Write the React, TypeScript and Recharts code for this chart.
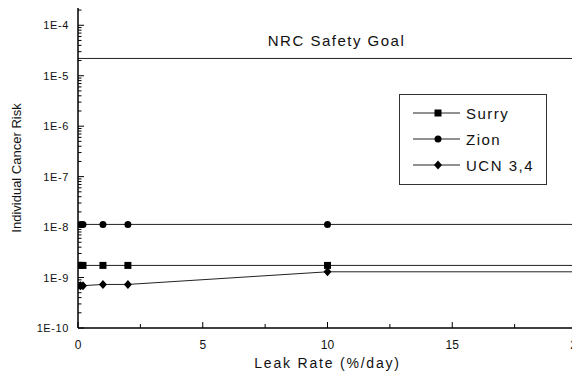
import React from 'react';
import {
  LineChart,
  Line,
  XAxis,
  YAxis,
  ReferenceLine,
  Legend,
} from 'recharts';

// leak rate (%/day) and individual cancer risk per plant
const leakRate = [0.1, 0.2, 1, 2, 10, 20];
const surry = [1.74e-9, 1.74e-9, 1.74e-9, 1.74e-9, 1.74e-9, 1.74e-9];
const zion = [1.13e-8, 1.13e-8, 1.13e-8, 1.13e-8, 1.13e-8, 1.13e-8];
const ucn = [6.9e-10, 6.9e-10, 7.3e-10, 7.3e-10, 1.3e-9, 1.3e-9];

const seriesNames = ['Surry', 'Zion', 'UCN 3,4'];
const seriesKeys = ['surry', 'zion', 'ucn'];
const seriesShapes = ['square', 'circle', 'diamond'];

const safetyGoal = 2.2e-5;
const safetyLabel = 'NRC Safety Goal';

const yDomain = [1e-10, 2.2e-4];
const yMajor = [1e-10, 1e-9, 1e-8, 1e-7, 1e-6, 1e-5, 1e-4];
const yLabels = ['1E-10', '1E-9', '1E-8', '1E-7', '1E-6', '1E-5', '1E-4'];
const yMinorSteps = [2, 3, 4, 5, 6, 7, 8, 9];

const xMajor = [0, 5, 10, 15, 20];
const xMinor = [2.5, 7.5, 12.5, 17.5];

const FONT = '"Liberation Sans", Arial, sans-serif';

const data = leakRate.map((x, i) => ({ x, surry: surry[i], zion: zion[i], ucn: ucn[i] }));

const yTicks: number[] = [];
yMajor.forEach((m) => {
  yTicks.push(m);
  yMinorSteps.forEach((s) => {
    const v = m * s;
    if (v <= yDomain[1]) yTicks.push(v);
  });
});
const xTicks = [...xMajor, ...xMinor].sort((a, b) => a - b);

const majorIndex = (v: number) =>
  yMajor.findIndex((m) => Math.abs(Math.log10(v) - Math.log10(m)) < 1e-6);

const LeftTick = (props: any) => {
  const { x, y, payload } = props;
  const idx = majorIndex(payload.value);
  const len = idx >= 0 ? 6 : 3.5;
  return (
    <g>
      <line x1={x} y1={y} x2={x + len} y2={y} stroke="#000" strokeWidth={1} />
      {idx >= 0 && (
        <text x={x - 9} y={y} textAnchor="end" dominantBaseline="central"
          fontSize={11} fontFamily={FONT} letterSpacing={0.6} fill="#111">
          {yLabels[idx]}
        </text>
      )}
    </g>
  );
};

const RightTick = (props: any) => {
  const { x, y, payload } = props;
  const idx = majorIndex(payload.value);
  const len = idx >= 0 ? 6 : 3.5;
  return <line x1={x} y1={y} x2={x - len} y2={y} stroke="#000" strokeWidth={1} />;
};

const BottomTick = (props: any) => {
  const { x, y, payload } = props;
  const major = xMajor.includes(payload.value);
  return (
    <g>
      <line x1={x} y1={y} x2={x} y2={y - (major ? 6 : 4)} stroke="#000" strokeWidth={1} />
      {major && (
        <text x={x} y={y + 17} textAnchor="middle" dominantBaseline="central"
          fontSize={12} fontFamily={FONT} fill="#111">
          {payload.value}
        </text>
      )}
    </g>
  );
};

const YTitle = (props: any) => {
  const { viewBox } = props;
  const cy = viewBox.y + viewBox.height / 2;
  return (
    <text x={0} y={0} transform={`translate(21, ${cy}) rotate(-90)`} textAnchor="middle"
      fontSize={13} fontFamily={FONT} fill="#111">
      Individual Cancer Risk
    </text>
  );
};

const Marker = ({ shape, cx, cy, size = 7 }: any) => {
  if (cx == null || cy == null) return <g />;
  const h = size / 2;
  if (shape === 'square') return <rect x={cx - h} y={cy - h} width={size} height={size} fill="#000" />;
  if (shape === 'diamond')
    return <polygon points={`${cx},${cy - h - 0.5} ${cx + h},${cy} ${cx},${cy + h + 0.5} ${cx - h},${cy}`} fill="#000" />;
  return <circle cx={cx} cy={cy} r={h} fill="#000" />;
};

const LegendBox = () => (
  <div style={{
    width: 148, height: 91, boxSizing: 'border-box', border: '1px solid #333',
    background: '#fff', paddingTop: 5, fontFamily: FONT,
  }}>
    {seriesNames.map((name, i) => (
      <div key={name} style={{ display: 'flex', alignItems: 'center', height: 26 }}>
        <svg width={62} height={14} style={{ display: 'block' }}>
          <line x1={13} y1={7} x2={60} y2={7} stroke="#222" strokeWidth={1} />
          <Marker shape={seriesShapes[i]} cx={38} cy={7} size={i === 2 ? 8 : 7} />
        </svg>
        <span style={{ fontSize: 15, letterSpacing: 1.5, color: '#111', marginLeft: 4 }}>{name}</span>
      </div>
    ))}
  </div>
);

export default function App() {
  return (
    <div style={{ margin: '-8px 0 0 -8px', width: 580, height: 371 }}>
      <LineChart width={580} height={371} data={data}
        margin={{ top: 8, right: 3, bottom: 0, left: 0 }}>
        <XAxis dataKey="x" type="number" domain={[0, 20]} ticks={xTicks}
          allowDataOverflow height={43} stroke="#000" strokeWidth={1.5}
          tickLine={false} tickSize={0} tickMargin={0} tick={<BottomTick />}
          interval={0}
          label={{ value: 'Leak Rate (%/day)', position: 'insideBottom', offset: 3,
            fontSize: 14, letterSpacing: 1.8, fontFamily: FONT, fill: '#111' }} />
        <XAxis xAxisId="top" orientation="top" type="number" domain={[0, 20]}
          height={0} stroke="#000" strokeWidth={1.5} tick={false} tickLine={false} />
        <YAxis type="number" scale="log" domain={yDomain} ticks={yTicks} allowDataOverflow
          width={78} stroke="#000" strokeWidth={1.5} interval={0}
          tickLine={false} tickSize={0} tickMargin={0} tick={<LeftTick />}
          label={<YTitle />} />
        <YAxis yAxisId="right" orientation="right" type="number" scale="log" domain={yDomain}
          ticks={yTicks} allowDataOverflow width={0} stroke="#000" strokeWidth={1.5} interval={0}
          tickLine={false} tickSize={0} tickMargin={0} tick={<RightTick />} />
        <ReferenceLine y={safetyGoal} stroke="#222" strokeWidth={1}
          label={{ value: safetyLabel, position: 'top', offset: 12, dx: 9,
            fontSize: 15, letterSpacing: 1.5, fontFamily: FONT, fill: '#111' }} />
        <Legend layout="vertical" verticalAlign="middle" align="center"
          content={<LegendBox />}
          wrapperStyle={{ position: 'absolute', left: 399, top: 94, width: 148, height: 91 }} />
        {seriesKeys.map((k, i) => (
          <Line key={k} dataKey={k} name={seriesNames[i]} type="linear"
            stroke="#222" strokeWidth={1} isAnimationActive={false}
            dot={(p: any) => <Marker key={`${k}-${p.index}`} shape={seriesShapes[i]} cx={p.cx} cy={p.cy}
              size={i === 2 ? 8 : 7} />}
            activeDot={false} />
        ))}
      </LineChart>
    </div>
  );
}
